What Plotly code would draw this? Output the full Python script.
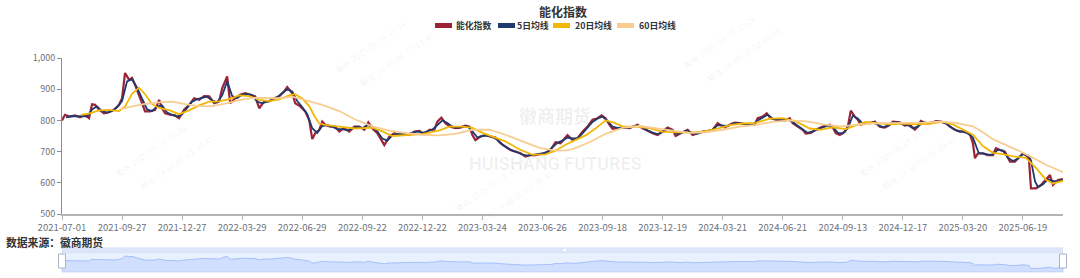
import plotly.graph_objects as go

# ---------------- data (trading-day number since 2021-07-01, value) ----------------
tick_labels = ["2021-07-01", "2021-09-27", "2021-12-27", "2022-03-29", "2022-06-29",
               "2022-09-22", "2022-12-22", "2023-03-24", "2023-06-26", "2023-09-18",
               "2023-12-19", "2024-03-21", "2024-06-21", "2024-09-13", "2024-12-17",
               "2025-03-20", "2025-06-19"]

idx_day = [0, 3, 8, 13, 18, 23, 27, 30, 33, 37, 42, 47, 52, 57, 60, 63, 67, 70, 73, 77,
           80, 83, 88, 93, 97, 100, 103, 108, 113, 117, 122, 127, 132, 137, 142, 147, 152, 157, 160, 165,
           168, 173, 178, 183, 188, 193, 197, 202, 207, 212, 217, 222, 225, 230, 233, 238, 243, 247, 250, 253,
           257, 260, 263, 268, 273, 277, 282, 287, 292, 297, 302, 306, 310, 315, 320, 322, 327, 332, 337, 342,
           347, 352, 357, 362, 367, 372, 375, 379, 383, 388, 393, 398, 403, 407, 410, 413, 418, 423, 428, 433,
           438, 443, 448, 453, 458, 463, 468, 473, 478, 483, 488, 493, 498, 505, 510, 515, 520, 525, 530, 535,
           539, 543, 547, 550, 555, 560, 567, 575, 580, 585, 590, 595, 600, 605, 610, 613, 618, 625, 630, 635,
           640, 645, 650, 655, 658, 662, 667, 672, 677, 682, 687, 692, 695, 700, 704, 708, 713, 718, 723, 727,
           730, 735, 740, 743, 748, 753, 760, 767, 770, 773, 777, 782, 785, 788, 792, 795, 798, 803, 808, 812,
           817, 822, 827, 830, 837, 842, 847, 852, 855, 858, 863, 868, 873, 878, 883, 887, 892, 897, 902, 907,
           910, 912, 915, 920, 925, 930, 933, 937, 942, 947, 952, 957, 960, 963, 966, 968, 973, 978, 983, 987,
           990, 995, 1000]
idx_val = [800, 818, 812, 816, 810, 818, 807, 852, 850, 834, 823, 826, 834, 850, 871, 952, 930, 936, 914, 877,
           855, 829, 829, 834, 866, 839, 823, 818, 816, 807, 834, 850, 871, 866, 878, 877, 855, 861, 903, 941,
           855, 871, 882, 887, 882, 877, 839, 861, 861, 871, 877, 893, 907, 887, 855, 845, 829, 800, 740, 759,
           770, 796, 786, 780, 780, 764, 775, 764, 780, 780, 770, 794, 775, 759, 732, 721, 748, 759, 753, 759,
           753, 764, 766, 756, 770, 770, 796, 809, 791, 780, 775, 777, 783, 780, 753, 737, 748, 753, 748, 745,
           727, 716, 705, 700, 695, 684, 689, 689, 692, 695, 705, 730, 727, 753, 737, 743, 764, 780, 802, 807,
           816, 807, 786, 773, 775, 777, 775, 786, 775, 766, 759, 753, 766, 777, 770, 750, 759, 770, 753, 759,
           764, 766, 770, 791, 786, 777, 786, 793, 791, 788, 786, 786, 807, 812, 823, 807, 802, 800, 800, 807,
           791, 780, 770, 758, 760, 770, 780, 786, 777, 759, 753, 764, 780, 831, 812, 802, 786, 791, 791, 796,
           780, 777, 786, 796, 794, 783, 786, 770, 780, 798, 791, 791, 798, 796, 791, 780, 770, 764, 764, 756,
           727, 679, 694, 694, 689, 689, 711, 705, 700, 668, 668, 684, 694, 689, 675, 582, 582, 593, 609, 625,
           593, 609, 612]

ma5_day = [4, 10, 15, 20, 25, 30, 35, 40, 45, 50, 55, 60, 65, 70, 75, 80, 85, 90, 95, 100,
           105, 110, 115, 120, 125, 130, 135, 140, 145, 150, 155, 160, 165, 170, 175, 180, 185, 190, 195, 200,
           205, 210, 215, 220, 225, 230, 235, 240, 245, 250, 255, 260, 265, 270, 275, 280, 285, 290, 295, 300,
           305, 310, 315, 320, 325, 330, 335, 340, 345, 350, 355, 360, 365, 370, 375, 380, 385, 390, 395, 400,
           405, 410, 415, 420, 425, 430, 435, 440, 445, 450, 455, 460, 465, 470, 475, 480, 485, 490, 495, 500,
           505, 510, 515, 520, 525, 530, 535, 540, 545, 550, 555, 560, 565, 570, 575, 580, 585, 590, 595, 600,
           605, 610, 615, 620, 625, 630, 635, 640, 645, 650, 655, 660, 665, 670, 675, 680, 685, 690, 695, 700,
           705, 710, 715, 720, 725, 730, 735, 740, 745, 750, 755, 760, 765, 770, 775, 780, 785, 790, 795, 800,
           805, 810, 815, 820, 825, 830, 835, 840, 845, 850, 855, 860, 865, 870, 875, 880, 885, 890, 895, 900,
           905, 910, 912, 914, 916, 920, 925, 930, 935, 940, 945, 950, 955, 960, 965, 968, 970, 972, 975, 980,
           985, 990, 995, 1000]
ma5_val = [810, 814, 813, 814, 812, 835, 845, 830, 825, 830, 842, 862, 925, 932, 905, 868, 835, 830, 845, 848,
           825, 818, 812, 820, 842, 860, 868, 872, 876, 864, 858, 880, 925, 878, 872, 882, 885, 881, 860, 855,
           860, 866, 874, 886, 900, 893, 862, 843, 820, 775, 760, 782, 785, 780, 772, 772, 768, 775, 780, 775,
           785, 780, 765, 742, 735, 752, 756, 757, 755, 760, 765, 760, 765, 770, 785, 800, 792, 780, 776, 780,
           781, 765, 745, 750, 751, 747, 738, 722, 712, 703, 698, 690, 687, 689, 691, 694, 700, 715, 728, 735,
           745, 742, 742, 758, 775, 795, 806, 812, 798, 780, 776, 777, 776, 780, 783, 778, 768, 761, 756, 762,
           772, 768, 756, 762, 768, 758, 758, 763, 766, 770, 785, 784, 782, 790, 792, 789, 787, 786, 800, 810,
           818, 806, 802, 800, 803, 795, 783, 772, 760, 765, 772, 779, 784, 780, 760, 758, 775, 815, 806, 790,
           791, 794, 786, 778, 783, 793, 794, 787, 785, 775, 780, 794, 791, 794, 797, 794, 786, 774, 766, 764,
           758, 745, 728, 708, 694, 694, 690, 690, 706, 703, 680, 670, 678, 692, 688, 672, 640, 605, 586, 595,
           612, 605, 605, 610]

ma20_day = [19, 27, 37, 47, 57, 63, 70, 77, 83, 90, 97, 107, 117, 127, 137, 147, 157, 167, 177, 187,
            197, 207, 217, 227, 233, 240, 247, 252, 257, 263, 277, 293, 310, 320, 330, 343, 360, 377, 387, 400,
            410, 420, 430, 443, 457, 470, 483, 493, 503, 513, 523, 533, 543, 552, 560, 573, 587, 600, 613, 627,
            640, 653, 667, 680, 693, 707, 720, 733, 747, 757, 770, 783, 793, 803, 813, 827, 840, 853, 867, 880,
            890, 900, 910, 920, 930, 940, 950, 963, 973, 983, 990, 1000]
ma20_val = [818, 822, 832, 834, 830, 845, 885, 905, 884, 852, 840, 833, 820, 832, 848, 860, 861, 868, 880, 878,
            866, 862, 867, 880, 884, 870, 846, 815, 790, 786, 780, 774, 777, 765, 750, 753, 756, 768, 780, 780,
            776, 760, 749, 733, 707, 690, 691, 703, 722, 737, 752, 774, 800, 792, 781, 780, 775, 763, 762, 761,
            764, 772, 785, 790, 792, 806, 807, 797, 774, 770, 778, 772, 784, 795, 791, 787, 790, 787, 790, 795,
            787, 771, 754, 718, 696, 692, 685, 680, 648, 610, 598, 606]

ma60_day = [59, 70, 83, 97, 110, 123, 137, 150, 163, 177, 190, 203, 217, 230, 243, 252, 260, 277, 293, 310,
            327, 343, 360, 377, 393, 410, 427, 443, 460, 477, 493, 503, 510, 527, 543, 560, 577, 593, 610, 627,
            643, 660, 677, 693, 710, 727, 743, 753, 760, 777, 793, 810, 827, 843, 860, 877, 893, 910, 920, 930,
            943, 957, 970, 983, 1000]
ma60_val = [836, 845, 853, 858, 860, 852, 846, 846, 854, 865, 872, 871, 871, 876, 866, 857, 850, 830, 803, 781,
            767, 759, 754, 752, 757, 770, 770, 754, 733, 712, 703, 704, 708, 730, 757, 776, 782, 774, 767, 760,
            762, 770, 780, 786, 795, 800, 797, 792, 787, 781, 785, 790, 791, 791, 793, 796, 792, 781, 762, 740,
            722, 701, 680, 658, 634]

series_names = ["能化指数", "5日均线", "20日均线", "60日均线"]
series_colors = ["#9B2335", "#1F3A6E", "#F2B705", "#F7CD92"]

# ---------------- figure ----------------
FONT = "Noto Sans CJK SC, Noto Sans, sans-serif"
W, H = 1080, 278
ML, MR, MT, MB = 62, 17, 58, 6
PW, PH = W - ML - MR, H - MT - MB


def py(p):  # pixel y -> paper fraction
    return (H - MB - p) / PH


def px(p):  # pixel x -> paper fraction
    return (p - ML) / PW


fig = go.Figure()

data = [(idx_day, idx_val, 2.2), (ma5_day, ma5_val, 1.8), (ma20_day, ma20_val, 1.8), (ma60_day, ma60_val, 1.8)]
for (xd, yd, lw), name, col in zip(data, series_names, series_colors):
    fig.add_trace(go.Scatter(x=xd, y=yd, mode="lines", name=name, showlegend=False,
                             line=dict(color=col, width=lw), hoverinfo="skip",
                             xaxis="x", yaxis="y"))

# data-zoom slider shadow
fig.add_trace(go.Scatter(x=idx_day, y=idx_val, mode="lines", showlegend=False, hoverinfo="skip",
                         line=dict(color="rgba(143,176,247,0.9)", width=0.8),
                         fill="tozeroy", fillcolor="rgba(143,176,247,0.28)",
                         xaxis="x2", yaxis="y2"))

n_last = 1000
fig.update_layout(
    width=W, height=H,
    margin=dict(l=ML, r=MR, t=MT, b=MB, autoexpand=False),
    paper_bgcolor="white", plot_bgcolor="rgba(0,0,0,0)",
    font=dict(family=FONT, color="#333"),
    showlegend=False,
    xaxis=dict(domain=[0, 1], range=[0, n_last], anchor="y", automargin=False,
               tickvals=[i * 60 for i in range(len(tick_labels))], ticktext=tick_labels,
               showgrid=False, zeroline=False, showline=True, linecolor="#b4b4b4", linewidth=1.5,
               ticks="outside", ticklen=4, tickcolor="#b4b4b4", ticklabelstandoff=0,
               tickfont=dict(size=9.5, color="#6e7079", family=FONT)),
    yaxis=dict(domain=[py(214), 1], range=[500, 1000], anchor="x", automargin=False,
               tickvals=[500, 600, 700, 800, 900, 1000], tickformat=",",
               showgrid=False, zeroline=False, showline=True, linecolor="#8c8c8c", linewidth=1,
               ticks="outside", ticklen=4, tickcolor="#8c8c8c",
               tickfont=dict(size=9, color="#6e7079", family=FONT)),
    xaxis2=dict(domain=[0, 1], range=[0, n_last], anchor="y2", visible=False),
    yaxis2=dict(domain=[0, py(252.7)], range=[485, 1046], anchor="x2", visible=False),
)

# manual legend (swatch + label), matching the reference's compact layout
legend_pos = [(435, 456), (498, 517), (553, 575), (617, 639)]
for (sx, tx), name, col in zip(legend_pos, series_names, series_colors):
    fig.add_shape(type="line", xref="paper", yref="paper", x0=px(sx), x1=px(sx + 17),
                  y0=py(25.5), y1=py(25.5), line=dict(color=col, width=5))
    fig.add_annotation(text=f"<b>{name}</b>", xref="paper", yref="paper", x=px(tx - 1), y=py(25.5),
                       xanchor="left", yanchor="middle", showarrow=False, borderpad=0,
                       font=dict(size=8.8, color="#333", family=FONT))

# slider decorations
fig.add_shape(type="rect", xref="paper", yref="paper", x0=0, x1=1, y0=0, y1=py(252.7),
              fillcolor="rgba(135,175,255,0.18)", line=dict(color="#d2dbee", width=1), layer="below")
fig.add_shape(type="rect", xref="paper", yref="paper", x0=0, x1=1, y0=py(252.7), y1=py(247.3),
              fillcolor="#dde6f8", line=dict(width=0), layer="below")
fig.add_shape(type="rect", xref="paper", yref="paper", x0=px(563), x1=px(566), y0=py(251), y1=py(249),
              fillcolor="white", line=dict(width=0))
for hx in (62, 1063):
    fig.add_shape(type="rect", xref="paper", yref="paper", x0=px(hx - 3.5), x1=px(hx + 3.5),
                  y0=py(268), y1=py(254), fillcolor="white", line=dict(color="#aab4c8", width=1))

# title and texts
fig.add_annotation(text="<b>能化指数</b>", xref="paper", yref="paper", x=0.5, y=py(11.5),
                   xanchor="center", yanchor="middle", showarrow=False, borderpad=0,
                   font=dict(size=12, color="#333", family=FONT))
fig.add_annotation(text="<b>数据来源：徽商期货</b>", xref="paper", yref="paper", x=px(5), y=py(241.5),
                   xanchor="left", yanchor="middle", showarrow=False, borderpad=0,
                   font=dict(size=10.8, color="#333", family=FONT))

# watermarks
fig.add_annotation(text="<b>徽商期货</b>", xref="paper", yref="paper", x=px(555), y=py(115),
                   xanchor="center", yanchor="middle", showarrow=False,
                   font=dict(size=18, color="rgba(0,0,0,0.07)", family=FONT))
fig.add_annotation(text="<b>HUISHANG FUTURES</b>", xref="paper", yref="paper", x=px(555), y=py(163),
                   xanchor="center", yanchor="middle", showarrow=False,
                   font=dict(size=18, color="rgba(0,0,0,0.06)", family="Roboto, sans-serif"))
for wx, wy in [(110, 150), (490, 185), (760, 10), (935, 150), (330, 15)]:
    fig.add_annotation(text="徽商  2025-08-19  15:28", xref="paper", yref="paper", x=px(wx), y=py(wy),
                       showarrow=False, textangle=-35,
                       font=dict(size=8, color="rgba(0,0,0,0.07)", family=FONT))
    fig.add_annotation(text="期货  74-68-0C-02-89-41", xref="paper", yref="paper", x=px(wx + 25),
                       y=py(wy + 12), showarrow=False, textangle=-35,
                       font=dict(size=8, color="rgba(0,0,0,0.07)", family=FONT))

fig.write_html("out.html")
